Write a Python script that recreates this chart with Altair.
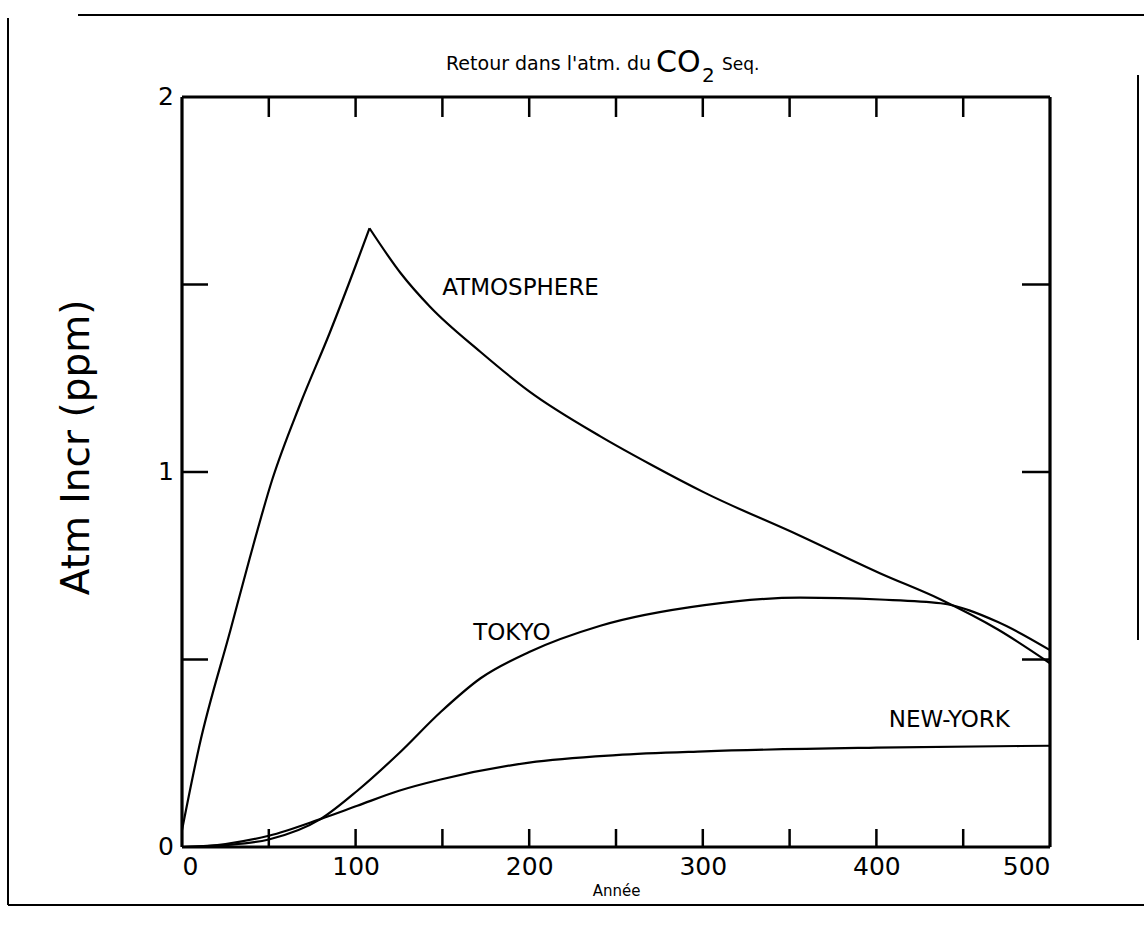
import altair as alt
import pandas as pd

# ---- data ----
atm_rise_years = [0, 10, 28, 39, 52, 68, 85, 100, 108]
atm_rise_vals = [0.045, 0.27, 0.58, 0.77, 0.98, 1.18, 1.37, 1.55, 1.65]
atm_decay_years = [108, 126, 143, 172, 200, 241, 270, 301, 356, 402, 437, 470, 500]
atm_decay_vals = [1.65, 1.53, 1.44, 1.32, 1.215, 1.095, 1.02, 0.945, 0.83, 0.73, 0.66, 0.58, 0.49]

tokyo_years = [0, 25, 50, 80, 101, 125, 149, 172, 200, 241, 301, 356, 402, 437, 470, 500]
tokyo_vals = [0.0, 0.005, 0.02, 0.075, 0.15, 0.25, 0.36, 0.45, 0.52, 0.59, 0.645, 0.665, 0.66, 0.65, 0.60, 0.525]

ny_years = [0, 25, 50, 80, 101, 125, 149, 200, 250, 301, 400, 500]
ny_vals = [0.0, 0.008, 0.03, 0.075, 0.11, 0.15, 0.18, 0.225, 0.245, 0.255, 0.265, 0.27]

label_names = ["ATMOSPHERE", "TOKYO", "NEW-YORK"]
label_x = [195, 190, 442]
label_y = [1.49, 0.57, 0.34]

x_tick_labels = [0, 100, 200, 300, 400, 500]
x_minor_ticks = [50, 100, 150, 200, 250, 300, 350, 400, 450]
y_tick_labels = [0, 1, 2]
y_minor_ticks = [0.5, 1.0, 1.5]

rows = []
for name, xs, ys in [("ATM-rise", atm_rise_years, atm_rise_vals),
                     ("ATM-decay", atm_decay_years, atm_decay_vals),
                     ("TOKYO", tokyo_years, tokyo_vals),
                     ("NEW-YORK", ny_years, ny_vals)]:
    for a, b in zip(xs, ys):
        rows.append({"series": name, "year": a, "value": b})
df = pd.DataFrame(rows)
labels_df = pd.DataFrame({"name": label_names, "year": label_x, "value": label_y})
xt_df = pd.DataFrame({"year": x_minor_ticks})
yt_df = pd.DataFrame({"value": y_minor_ticks})
ylab_df = pd.DataFrame({"value": y_tick_labels, "txt": [str(v) for v in y_tick_labels]})
one = pd.DataFrame({"k": [0]})

W, H = 868, 750
FONT = "DejaVu Sans"

xscale = alt.Scale(domain=[0, 500], nice=False)
yscale = alt.Scale(domain=[0, 2], nice=False)

x_enc = alt.X("year:Q", scale=xscale,
              axis=alt.Axis(values=x_tick_labels, title="Année", ticks=False, domain=False,
                            grid=False, labelFontSize=25, labelPadding=7, labelFont=FONT,
                            titleFont=FONT, titleFontSize=15, titleFontWeight="normal",
                            titlePadding=4, labelColor="black", titleColor="black",
                            format="d", labelOverlap=False))
y_enc = alt.Y("value:Q", scale=yscale,
              axis=alt.Axis(values=y_tick_labels, title="Atm Incr (ppm)", ticks=False,
                            domain=False, grid=False, labels=False,
                            titleFont=FONT, titleFontSize=39,
                            titleFontWeight="normal",
                            titleX=-106, titleY=350, titleAngle=270, titleAlign="center",
                            titleBaseline="middle", titleColor="black"))

lines = alt.Chart(df).mark_line(color="black", strokeWidth=2.2, interpolate="monotone").encode(
    x=x_enc, y=y_enc, detail="series:N")

texts = alt.Chart(labels_df).mark_text(font=FONT, fontSize=23, color="black").encode(
    x=alt.X("year:Q", scale=xscale), y=alt.Y("value:Q", scale=yscale), text="name:N")

ylabels = alt.Chart(ylab_df).mark_text(font=FONT, fontSize=25, color="black", align="right",
                                       baseline="middle").encode(
    y=alt.Y("value:Q", scale=yscale), x=alt.value(-8), text="txt:N")

RULE = dict(color="black", strokeWidth=2.5)
bottom_ticks = alt.Chart(xt_df).mark_rule(**RULE).encode(
    x=alt.X("year:Q", scale=xscale), y=alt.value(H), y2=alt.value(H - 18))
top_ticks = alt.Chart(xt_df).mark_rule(**RULE).encode(
    x=alt.X("year:Q", scale=xscale), y=alt.value(0), y2=alt.value(20))
left_ticks = alt.Chart(yt_df).mark_rule(**RULE).encode(
    y=alt.Y("value:Q", scale=yscale), x=alt.value(0), x2=alt.value(26))
right_ticks = alt.Chart(yt_df).mark_rule(**RULE).encode(
    y=alt.Y("value:Q", scale=yscale), x=alt.value(W), x2=alt.value(W - 28))

FRAME = dict(color="black", strokeWidth=3.2)
frame_top = alt.Chart(one).mark_rule(**FRAME).encode(x=alt.value(0), x2=alt.value(W), y=alt.value(0))
frame_bottom = alt.Chart(one).mark_rule(**FRAME).encode(x=alt.value(0), x2=alt.value(W), y=alt.value(H))
frame_left = alt.Chart(one).mark_rule(**FRAME).encode(x=alt.value(0), y=alt.value(0), y2=alt.value(H))
frame_right = alt.Chart(one).mark_rule(**FRAME).encode(x=alt.value(W), y=alt.value(0), y2=alt.value(H))

# scanned page border
PAGE = dict(color="black", strokeWidth=2)
page_left = alt.Chart(one).mark_rule(**PAGE).encode(
    x=alt.value(-174), y=alt.value(-79), y2=alt.value(808))
page_top = alt.Chart(one).mark_rule(**PAGE).encode(
    x=alt.value(-104), x2=alt.value(962), y=alt.value(-82))
page_bottom = alt.Chart(one).mark_rule(**PAGE).encode(
    x=alt.value(-174), x2=alt.value(962), y=alt.value(808))
page_right = alt.Chart(one).mark_rule(**PAGE).encode(
    x=alt.value(956), y=alt.value(-22), y2=alt.value(543))

# title pieces: "Retour dans l'atm. du CO2 Seq."
t1 = alt.Chart(one).mark_text(font=FONT, fontSize=19, align="right", baseline="alphabetic",
                              color="black", text="Retour dans l'atm. du").encode(
    x=alt.value(469), y=alt.value(-27))
t2 = alt.Chart(one).mark_text(font=FONT, fontSize=30, align="left", baseline="alphabetic",
                              color="black", text="CO").encode(
    x=alt.value(474), y=alt.value(-25))
t3 = alt.Chart(one).mark_text(font=FONT, fontSize=20, align="left", baseline="alphabetic",
                              color="black", text="2").encode(
    x=alt.value(520), y=alt.value(-15))
t4 = alt.Chart(one).mark_text(font=FONT, fontSize=17, align="left", baseline="alphabetic",
                              color="black", text="Seq.").encode(
    x=alt.value(540), y=alt.value(-27))

chart = alt.layer(lines, texts, ylabels, bottom_ticks, top_ticks, left_ticks, right_ticks,
                  frame_top, frame_bottom, frame_left, frame_right,
                  page_left, page_top, page_bottom, page_right,
                  t1, t2, t3, t4).properties(
    width=W, height=H,
    padding={"left": 182, "top": 97, "right": 1144 - 182 - W, "bottom": 933 - 97 - H},
    autosize=alt.AutoSizeParams(type="none"),
).configure_view(stroke=None).configure(background="white")

chart.save("out.html", embed_options={"renderer": "svg", "actions": False})
